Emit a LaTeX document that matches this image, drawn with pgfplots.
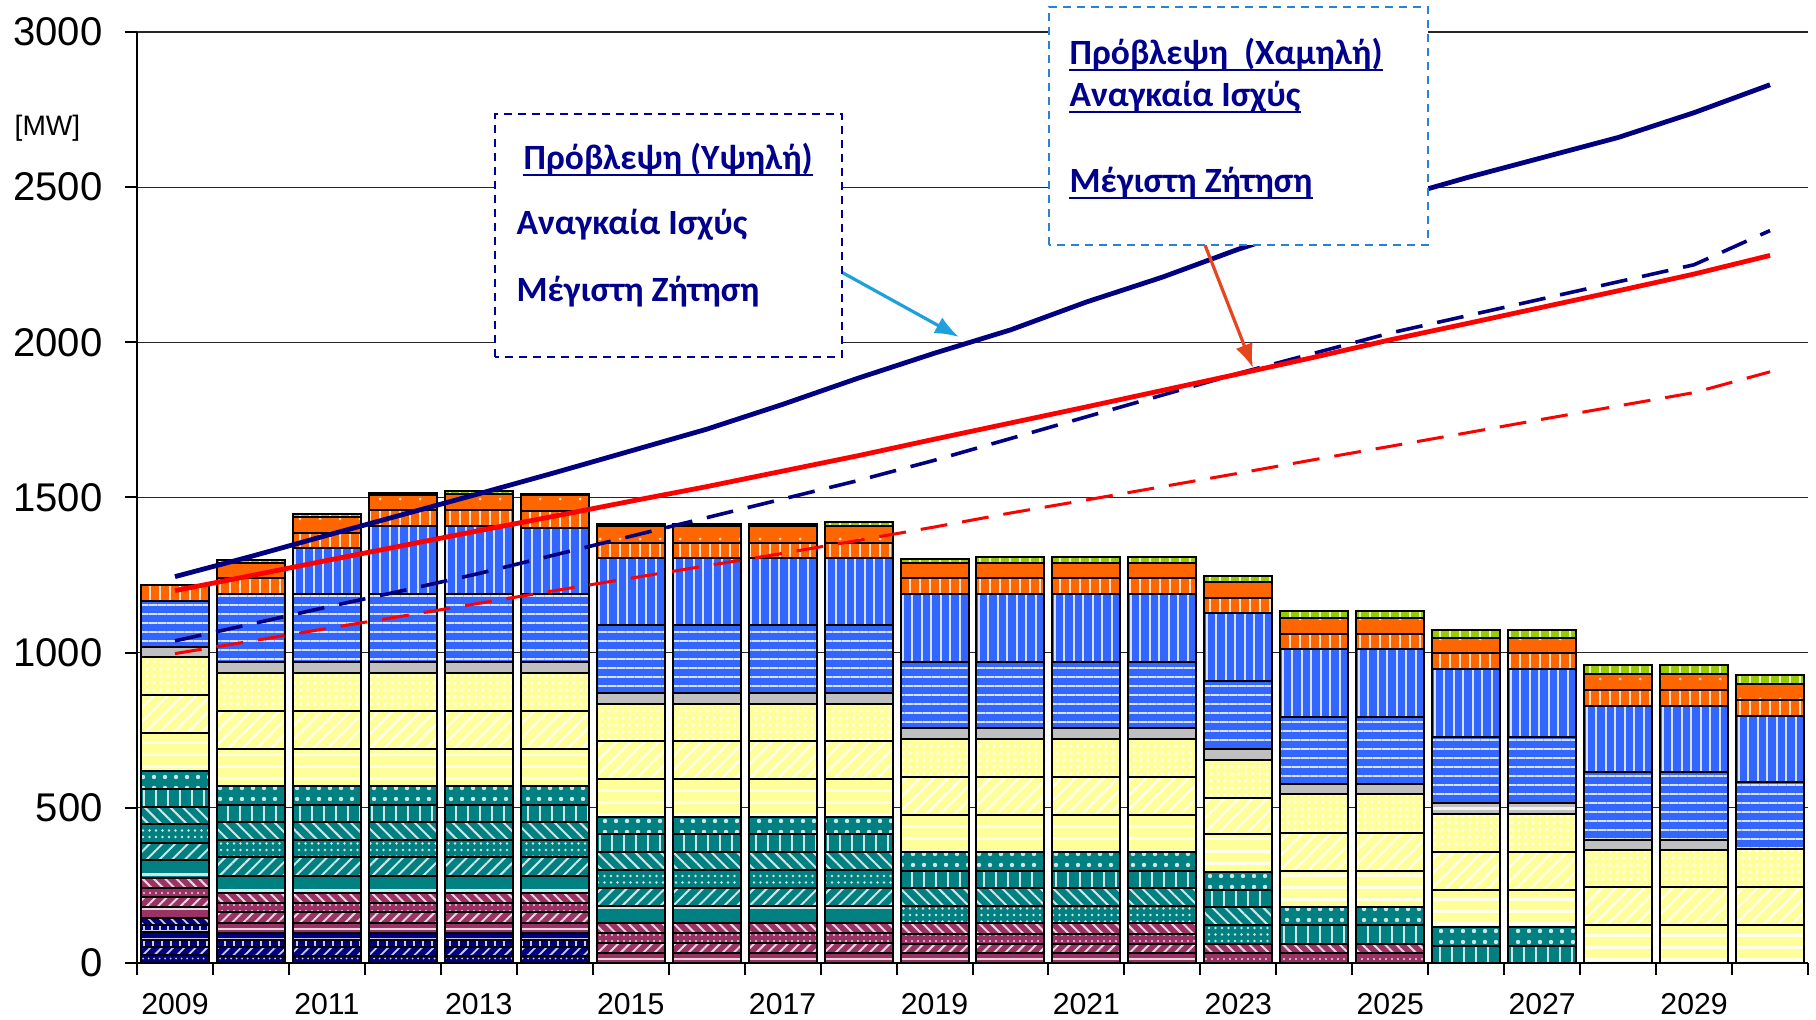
\documentclass[border=0pt]{standalone}
\usepackage{fontspec}
\setmainfont{Liberation Sans}
\newfontfamily\calfont{Carlito}
\usepackage{pgfplots}
\pgfplotsset{compat=1.18}
\usepackage{pgfplotstable}
\usetikzlibrary{patterns.meta,arrows.meta}

\definecolor{cNavy}{RGB}{0,0,128}
\definecolor{cMaroon}{RGB}{153,51,102}
\definecolor{cTeal}{RGB}{0,128,128}
\definecolor{cYel}{RGB}{255,255,153}
\definecolor{cGray}{RGB}{192,192,192}
\definecolor{cBlue}{RGB}{51,102,255}
\definecolor{cOrange}{RGB}{255,102,0}
\definecolor{cGreen}{RGB}{153,204,0}
\definecolor{cLineRed}{RGB}{255,0,0}
\definecolor{cTxt}{RGB}{0,0,140}
\definecolor{cBox1}{RGB}{0,0,150}
\definecolor{cBox2}{RGB}{40,130,210}
\definecolor{cArrow1}{RGB}{30,160,220}
\definecolor{cArrow2}{RGB}{230,70,30}

\pgfplotstableread{
X NA NB NC ND NE NF MA MB MC MD TA TB TC TD TE TF YA YB YC G BA BB OA OB GR
0 26 24 24 26 22 22 36 32 29 32 59 56 60 56 56 60 120 124 121 34 149 0 50 0 0
1 23 27 24 24 0 0 30 35 29 33 56 62 53 57 56 61 119 123 122 35 220 0 51 50 7
2 23 27 24 24 0 0 30 35 29 33 56 62 53 57 56 61 119 123 122 35 220 147 51 49 10
3 23 27 24 24 0 0 30 35 29 33 56 62 53 57 56 61 119 123 122 35 220 219 52 48 6
4 23 27 24 24 0 0 30 35 29 33 56 62 53 57 56 61 119 123 122 35 220 219 52 51 10
5 23 27 24 24 0 0 30 35 29 33 56 62 53 57 56 61 119 123 122 35 220 213 53 53 3
6 0 0 0 0 0 0 33 30 33 34 54 57 59 59 57 56 121 121 122 34 218 216 49 54 8
7 0 0 0 0 0 0 33 30 33 34 54 57 59 59 57 56 121 121 122 34 218 216 49 54 6
8 0 0 0 0 0 0 33 30 33 34 54 57 59 59 57 56 121 121 122 34 218 216 49 54 6
9 0 0 0 0 0 0 33 30 33 34 54 57 59 59 57 56 121 121 122 34 218 216 49 54 15
10 0 0 0 0 0 0 31 29 33 35 0 0 56 57 55 61 120 123 122 34 215 217 51 51 11
11 0 0 0 0 0 0 31 29 33 35 0 0 56 57 55 61 120 123 122 34 215 217 51 51 19
12 0 0 0 0 0 0 31 29 33 35 0 0 56 57 55 61 120 123 122 34 215 217 51 51 19
13 0 0 0 0 0 0 31 29 33 35 0 0 56 57 55 61 120 123 122 34 215 217 51 51 19
14 0 0 0 0 0 0 0 0 31 30 0 0 61 57 56 57 123 118 121 36 220 219 48 52 19
15 0 0 0 0 0 0 0 0 31 30 0 0 0 0 61 57 117 124 123 34 217 217 49 51 23
16 0 0 0 0 0 0 0 0 31 30 0 0 0 0 61 57 117 124 123 34 217 217 49 51 23
17 0 0 0 0 0 0 0 0 0 0 0 0 0 0 55 62 118 123 122 35 214 218 51 48 27
18 0 0 0 0 0 0 0 0 0 0 0 0 0 0 55 62 118 123 122 35 214 218 51 48 27
19 0 0 0 0 0 0 0 0 0 0 0 0 0 0 0 0 122 122 120 32 221 212 51 51 29
20 0 0 0 0 0 0 0 0 0 0 0 0 0 0 0 0 122 122 120 32 221 212 51 51 29
21 0 0 0 0 0 0 0 0 0 0 0 0 0 0 0 0 122 122 123 0 216 214 51 50 30
}\bars

\pgfplotstableread{
X HN HD LN LD
0 1245 1038 1200 997
1 1310 1092 1248 1037
2 1378 1147 1297 1078
3 1445 1200 1345 1118
4 1512 1255 1393 1159
5 1580 1315 1440 1200
6 1650 1375 1488 1240
7 1720 1435 1535 1280
8 1800 1495 1585 1320
9 1885 1555 1635 1362
10 1965 1620 1688 1405
11 2040 1690 1740 1450
12 2130 1760 1792 1492
13 2210 1830 1845 1535
14 2300 1900 1898 1578
15 2380 1965 1952 1622
16 2460 2030 2008 1665
17 2530 2085 2060 1708
18 2595 2140 2113 1752
19 2660 2195 2166 1795
20 2740 2250 2220 1838
21 2830 2360 2280 1905
}\lines

\newcommand{\seg}[3]{\addplot[fill=#1, postaction={pattern={#2}, pattern color=white!80!#1}] table[x=X,y=#3]{\bars};}
\newcommand{\ulnode}[3]{% name, position, text
  \node (#1) at (#2) {#3};
  \draw[cTxt, line width=0.22mm] ([yshift=-0.5mm]#1.base west) -- ([yshift=-0.5mm]#1.base east);}

\begin{document}
\begin{tikzpicture}
\begin{axis}[
  at={(0,0)}, anchor=south west,
  width=167.1mm, height=93.1mm, scale only axis,
  ybar stacked, bar width=6.8mm,
  xmin=-0.5, xmax=21.5, ymin=0, ymax=3000,
  xtick={-0.5,0.5,...,21.5}, xticklabels={},
  extra x ticks={0,2,...,20},
  extra x tick labels={2009,2011,2013,2015,2017,2019,2021,2023,2025,2027,2029},
  extra x tick style={major tick length=0pt, grid=none},
  xticklabel style={font=\fontsize{8.6}{10}\selectfont, yshift=-1.8mm},
  ytick={0,500,...,3000},
  yticklabels={0,500,1000,1500,2000,2500,3000},
  yticklabel style={font=\fontsize{11.4}{13}\selectfont, xshift=-1mm},
  ymajorgrids, grid style={black!85, line width=0.13mm},
  axis x line*=bottom, axis y line*=left,
  axis line style={black, line width=0.2mm, -},
  tick align=outside, major tick length=1.2mm,
  tick style={black, line width=0.2mm},
  every axis plot/.append style={draw=black, line width=0.2mm},
]
\seg{cNavy}{Dots[radius=0.1mm,distance=0.55mm]}{NA}
\seg{cNavy}{Lines[angle=45,distance=0.8mm,line width=0.18mm]}{NB}
\seg{cNavy}{Lines[angle=90,distance=0.9mm,line width=0.2mm]}{NC}
\seg{cNavy}{Lines[angle=0,distance=0.8mm,line width=0.2mm]}{ND}
\seg{cNavy}{Hatch[angle=0,distance=0.8mm,line width=0.15mm]}{NE}
\seg{cNavy}{Lines[angle=-45,distance=0.8mm,line width=0.18mm]}{NF}
\seg{cMaroon}{Lines[angle=0,distance=1.0mm,line width=0.25mm]}{MA}
\seg{cMaroon}{Lines[angle=45,distance=0.8mm,line width=0.2mm]}{MB}
\seg{cMaroon}{Dots[radius=0.12mm,distance=0.6mm]}{MC}
\seg{cMaroon}{Lines[angle=-45,distance=0.8mm,line width=0.2mm]}{MD}
\seg{cTeal}{Lines[angle=0,distance=1.6mm,line width=0.3mm]}{TA}
\seg{cTeal}{Lines[angle=45,distance=0.9mm,line width=0.2mm]}{TB}
\seg{cTeal}{Dots[radius=0.14mm,distance=0.65mm]}{TC}
\seg{cTeal}{Lines[angle=-45,distance=0.9mm,line width=0.2mm]}{TD}
\seg{cTeal}{Lines[angle=90,distance=1.2mm,line width=0.25mm]}{TE}
\seg{cTeal}{Dots[radius=0.22mm,distance=1.1mm]}{TF}
\seg{cYel}{Lines[angle=0,distance=1.2mm,line width=0.3mm]}{YA}
\seg{cYel}{Lines[angle=45,distance=1.0mm,line width=0.25mm]}{YB}
\seg{cYel}{Dots[radius=0.18mm,distance=0.7mm]}{YC}
\seg{cGray}{Lines[angle=0,distance=3mm,line width=0.3mm]}{G}
\seg{cBlue}{Lines[angle=0,distance=0.9mm,line width=0.2mm]}{BA}
\seg{cBlue}{Lines[angle=90,distance=0.95mm,line width=0.2mm]}{BB}
\seg{cOrange}{Lines[angle=90,distance=1.0mm,line width=0.22mm]}{OA}
\seg{cOrange}{Dots[radius=0.15mm,distance=2mm]}{OB}
\seg{cGreen}{Lines[angle=90,distance=1.0mm,line width=0.22mm]}{GR}
\end{axis}

\begin{axis}[
  at={(0,0)}, anchor=south west,
  width=167.1mm, height=93.1mm, scale only axis,
  xmin=-0.5, xmax=21.5, ymin=0, ymax=3000,
  hide axis,
]
\addplot[cNavy, line width=0.48mm, no marks] table[x=X,y=HN]{\lines};
\addplot[cNavy, line width=0.36mm, no marks, dash pattern=on 2.7mm off 1.5mm] table[x=X,y=HD]{\lines};
\addplot[cLineRed, line width=0.48mm, no marks] table[x=X,y=LN]{\lines};
\addplot[cLineRed, line width=0.3mm, no marks, dash pattern=on 2.7mm off 1.5mm] table[x=X,y=LD]{\lines};
\end{axis}

% unit label
\node[anchor=west, inner sep=0, font=\fontsize{8}{10}\selectfont] at (-12.3mm,83.5mm) {[MW]};

% arrows
\draw[cArrow1, line width=0.32mm, -{Latex[length=2.4mm,width=1.8mm]}] (68.8mm,70.0mm) -- (82.2mm,62.6mm);
\draw[cArrow2, line width=0.32mm, -{Latex[length=2.4mm,width=1.8mm]}] (105.9mm,74.1mm) -- (111.6mm,59.5mm);

% box 1
\draw[cBox1, dash pattern=on 0.8mm off 0.6mm, line width=0.2mm, fill=white] (35.8mm,60.6mm) rectangle (70.5mm,84.9mm);
\begin{scope}[every node/.style={anchor=base west, inner sep=0, text=cTxt, font=\calfont\bfseries\fontsize{10.1}{12}\selectfont}]
\ulnode{a1}{38.6mm,79.3mm}{Πρόβλεψη (Υψηλή)}
\node at (37.9mm,72.8mm) {Αναγκαία Ισχύς};
\node at (37.9mm,66.1mm) {Μέγιστη Ζήτηση};
\end{scope}

% box 2
\draw[cBox2, dash pattern=on 0.8mm off 0.6mm, line width=0.2mm, fill=white] (91.2mm,71.8mm) rectangle (129.1mm,95.6mm);
\begin{scope}[every node/.style={anchor=base west, inner sep=0, text=cTxt, font=\calfont\bfseries\fontsize{10.1}{12}\selectfont}]
\ulnode{b1}{93.2mm,89.8mm}{Πρόβλεψη\ \ (Χαμηλή)}
\ulnode{b2}{93.2mm,85.6mm}{Αναγκαία Ισχύς}
\ulnode{b3}{93.2mm,77.0mm}{Μέγιστη Ζήτηση}
\end{scope}

\pgfresetboundingbox
\path[use as bounding box] (-13.7mm,-5.6mm) rectangle (167.9mm,96.3mm);
\end{tikzpicture}
\end{document}
